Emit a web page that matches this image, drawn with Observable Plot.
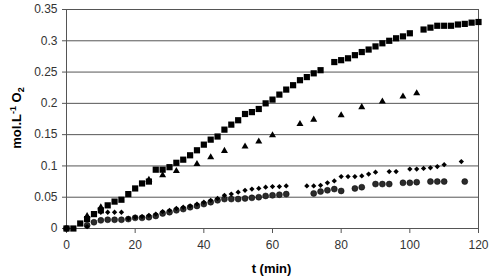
<!DOCTYPE html>
<html>
<head>
<meta charset="utf-8">
<script src="https://cdn.jsdelivr.net/npm/d3@7"></script>
<script src="https://cdn.jsdelivr.net/npm/@observablehq/plot@0.6"></script>
<style>
  html, body { margin: 0; padding: 0; background: #fff; }
  #chart { width: 495px; height: 279px; }
</style>
</head>
<body>
<div id="chart"></div>
<script>
// ---- data ----
const xTicks = [0, 20, 40, 60, 80, 100, 120];
const yTicks = [0, 0.05, 0.1, 0.15, 0.2, 0.25, 0.3, 0.35];

// squares
const sqT = [0,2,4,6,8,10,12,14,16,18,20,22,24,26,28,30,32,34,36,38,40,42,44,46,48,50,52,54,56,58,60,62,64,66,68,70,72,74,78,80,82,84,86,88,90,92,94,96,98,100,104,106,108,110,112,114,116,118,120];
const sqV = [0,0,0.008,0.015,0.023,0.029,0.037,0.043,0.046,0.055,0.064,0.072,0.075,0.094,0.094,0.098,0.105,0.11,0.117,0.125,0.134,0.142,0.147,0.158,0.166,0.173,0.183,0.186,0.191,0.2,0.206,0.214,0.222,0.229,0.237,0.242,0.248,0.253,0.266,0.269,0.272,0.277,0.282,0.286,0.291,0.296,0.3,0.304,0.307,0.312,0.318,0.321,0.324,0.324,0.324,0.326,0.327,0.329,0.33];

// triangles
const trT = [6,10,24,28,32,38,42,46,52,56,60,68,72,80,86,92,98,102];
const trV = [0.02,0.034,0.078,0.085,0.092,0.103,0.114,0.124,0.131,0.139,0.149,0.167,0.174,0.181,0.194,0.203,0.211,0.216];

// diamonds
const dmT = [0,6,10,12,14,16,18,20,22,24,26,28,30,32,34,36,38,40,42,44,46,48,50,52,54,56,58,60,62,64,70,72,74,76,78,80,82,84,86,88,90,94,96,100,102,104,106,108,110,115];
const dmV = [0,0.003,0.026,0.026,0.026,0.026,0.016,0.018,0.019,0.021,0.023,0.027,0.029,0.032,0.034,0.036,0.039,0.042,0.045,0.048,0.053,0.055,0.058,0.061,0.063,0.064,0.066,0.067,0.067,0.068,0.068,0.068,0.069,0.073,0.076,0.083,0.083,0.083,0.084,0.087,0.09,0.091,0.091,0.095,0.095,0.096,0.097,0.099,0.102,0.107];

// circles
const ciT = [0,6,8,10,12,14,16,18,20,22,24,26,28,30,32,34,36,38,40,42,44,46,48,50,52,54,56,58,60,62,64,72,74,76,78,80,84,86,90,92,94,98,100,102,106,108,110,116];
const ciV = [0,0.005,0.01,0.013,0.014,0.014,0.014,0.015,0.017,0.017,0.018,0.02,0.024,0.026,0.029,0.031,0.034,0.036,0.039,0.042,0.045,0.047,0.047,0.047,0.048,0.049,0.05,0.052,0.053,0.054,0.055,0.056,0.059,0.061,0.063,0.06,0.064,0.066,0.071,0.071,0.071,0.073,0.073,0.074,0.075,0.075,0.075,0.075];

const toRows = (ts, vs) => ts.map((t, i) => ({t, v: vs[i]}));
const squares = toRows(sqT, sqV);
const triangles = toRows(trT, trV);
const diamonds = toRows(dmT, dmV);
const circles = toRows(ciT, ciV);

const lineColor = "#555";

const chart = Plot.plot({
  width: 495,
  height: 279,
  marginLeft: 66,
  marginRight: 17,
  marginTop: 9,
  marginBottom: 51,
  style: {fontFamily: "'Liberation Sans', Arial, sans-serif", fontSize: "12px", background: "#fff", color: "#222"},
  x: {domain: [0, 120], label: null},
  y: {domain: [0, 0.35], label: null},
  marks: [
    Plot.gridY(yTicks, {stroke: lineColor, strokeOpacity: 1}),
    Plot.ruleX([120], {stroke: lineColor}),
    Plot.axisX(xTicks, {tickSize: 5, tickPadding: 7, stroke: lineColor, fill: "#333", label: null}),
    Plot.axisY(yTicks, {tickSize: 4, tickPadding: 5, stroke: lineColor, fill: "#333", label: null, tickFormat: d => String(d)}),
    Plot.ruleX([0], {stroke: lineColor}),
    Plot.ruleY([0], {stroke: lineColor}),
    Plot.dot(circles, {x: "t", y: "v", symbol: "circle", r: 3, fill: "#2b2b2b", stroke: "#000", strokeWidth: 0.5}),
    Plot.dot(diamonds, {x: "t", y: "v", symbol: "diamond2", r: 2.4, fill: "#000"}),
    Plot.dot(triangles, {x: "t", y: "v", symbol: "triangle", r: 2.6, fill: "#000"}),
    Plot.dot(squares, {x: "t", y: "v", symbol: "square", r: 3.5, fill: "#000"})
  ]
});

const svg = d3.select(chart);
// y axis label with super/subscripts
const yl = svg.append("text")
  .attr("transform", "translate(20.5,118) rotate(-90)")
  .attr("text-anchor", "middle")
  .style("font-family", "'Liberation Sans', Arial, sans-serif")
  .style("font-weight", "bold")
  .style("font-size", "13px")
  .attr("fill", "#000");
yl.append("tspan").text("mol.L");
yl.append("tspan").attr("dy", "-5").style("font-size", "9px").text("-1");
yl.append("tspan").attr("dy", "5").text(" O");
yl.append("tspan").attr("dy", "3").style("font-size", "9px").text("2");

svg.append("text")
  .attr("x", 271.5)
  .attr("y", 272.5)
  .attr("text-anchor", "middle")
  .style("font-family", "'Liberation Sans', Arial, sans-serif")
  .style("font-weight", "bold")
  .style("font-size", "13px")
  .attr("fill", "#000")
  .text("t (min)");

document.getElementById("chart").appendChild(chart);
</script>
</body>
</html>
